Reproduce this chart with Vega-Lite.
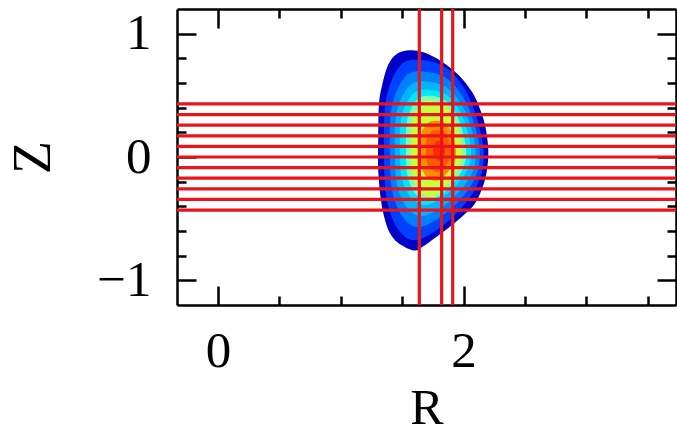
{
  "$schema": "https://vega.github.io/schema/vega-lite/v6.json",
  "width": 499,
  "height": 296,
  "autosize": "none",
  "padding": {"left": 177, "top": 9, "right": 1, "bottom": 135},
  "background": "white",
  "config": {
    "view": {"stroke": null},
    "font": "Liberation Serif",
    "axis": {
      "labelFont": "Liberation Serif",
      "titleFont": "Liberation Serif",
      "labelColor": "black",
      "titleColor": "black",
      "tickColor": "black",
      "domainColor": "black",
      "tickWidth": 2.5,
      "domainWidth": 2.5,
      "grid": false,
      "labelFontSize": 51,
      "titleFontSize": 54,
      "titleFontWeight": "normal",
      "labelFlush": false,
      "labelOverlap": false,
      "zindex": 1
    }
  },
  "datasets": {
    "contours": [
      {"level": 1, "i": 1, "R": 1.564, "Z": 0.866},
      {"level": 1, "i": 2, "R": 1.686, "Z": 0.846},
      {"level": 1, "i": 3, "R": 1.822, "Z": 0.775},
      {"level": 1, "i": 4, "R": 1.958, "Z": 0.667},
      {"level": 1, "i": 5, "R": 2.067, "Z": 0.532},
      {"level": 1, "i": 6, "R": 2.121, "Z": 0.424},
      {"level": 1, "i": 7, "R": 2.175, "Z": 0.262},
      {"level": 1, "i": 8, "R": 2.202, "Z": 0.059},
      {"level": 1, "i": 9, "R": 2.189, "Z": -0.119},
      {"level": 1, "i": 10, "R": 2.148, "Z": -0.265},
      {"level": 1, "i": 11, "R": 2.086, "Z": -0.387},
      {"level": 1, "i": 12, "R": 1.996, "Z": -0.476},
      {"level": 1, "i": 13, "R": 1.890, "Z": -0.565},
      {"level": 1, "i": 14, "R": 1.781, "Z": -0.646},
      {"level": 1, "i": 15, "R": 1.670, "Z": -0.725},
      {"level": 1, "i": 16, "R": 1.596, "Z": -0.758},
      {"level": 1, "i": 17, "R": 1.468, "Z": -0.697},
      {"level": 1, "i": 18, "R": 1.400, "Z": -0.616},
      {"level": 1, "i": 19, "R": 1.360, "Z": -0.509},
      {"level": 1, "i": 20, "R": 1.327, "Z": -0.346},
      {"level": 1, "i": 21, "R": 1.305, "Z": -0.103},
      {"level": 1, "i": 22, "R": 1.305, "Z": 0.140},
      {"level": 1, "i": 23, "R": 1.311, "Z": 0.424},
      {"level": 1, "i": 24, "R": 1.338, "Z": 0.586},
      {"level": 1, "i": 25, "R": 1.387, "Z": 0.749},
      {"level": 1, "i": 26, "R": 1.458, "Z": 0.838},

      {"level": 2, "i": 1, "R": 1.629, "Z": 0.789},
      {"level": 2, "i": 2, "R": 1.870, "Z": 0.716},
      {"level": 2, "i": 3, "R": 2.056, "Z": 0.461},
      {"level": 2, "i": 4, "R": 2.163, "Z": 0.059},
      {"level": 2, "i": 5, "R": 2.110, "Z": -0.233},
      {"level": 2, "i": 6, "R": 1.896, "Z": -0.503},
      {"level": 2, "i": 7, "R": 1.629, "Z": -0.671},
      {"level": 2, "i": 8, "R": 1.476, "Z": -0.598},
      {"level": 2, "i": 9, "R": 1.374, "Z": -0.342},
      {"level": 2, "i": 10, "R": 1.352, "Z": 0.059},
      {"level": 2, "i": 11, "R": 1.368, "Z": 0.461},
      {"level": 2, "i": 12, "R": 1.476, "Z": 0.731},

      {"level": 3, "i": 1, "R": 1.661, "Z": 0.694},
      {"level": 3, "i": 2, "R": 1.873, "Z": 0.631},
      {"level": 3, "i": 3, "R": 2.037, "Z": 0.409},
      {"level": 3, "i": 4, "R": 2.131, "Z": 0.059},
      {"level": 3, "i": 5, "R": 2.084, "Z": -0.191},
      {"level": 3, "i": 6, "R": 1.896, "Z": -0.422},
      {"level": 3, "i": 7, "R": 1.661, "Z": -0.565},
      {"level": 3, "i": 8, "R": 1.518, "Z": -0.503},
      {"level": 3, "i": 9, "R": 1.422, "Z": -0.285},
      {"level": 3, "i": 10, "R": 1.400, "Z": 0.059},
      {"level": 3, "i": 11, "R": 1.416, "Z": 0.409},
      {"level": 3, "i": 12, "R": 1.518, "Z": 0.643},

      {"level": 4, "i": 1, "R": 1.686, "Z": 0.613},
      {"level": 4, "i": 2, "R": 1.871, "Z": 0.558},
      {"level": 4, "i": 3, "R": 2.016, "Z": 0.364},
      {"level": 4, "i": 4, "R": 2.098, "Z": 0.059},
      {"level": 4, "i": 5, "R": 2.057, "Z": -0.155},
      {"level": 4, "i": 6, "R": 1.892, "Z": -0.353},
      {"level": 4, "i": 7, "R": 1.686, "Z": -0.476},
      {"level": 4, "i": 8, "R": 1.551, "Z": -0.423},
      {"level": 4, "i": 9, "R": 1.461, "Z": -0.235},
      {"level": 4, "i": 10, "R": 1.441, "Z": 0.059},
      {"level": 4, "i": 11, "R": 1.456, "Z": 0.364},
      {"level": 4, "i": 12, "R": 1.551, "Z": 0.569},

      {"level": 5, "i": 1, "R": 1.710, "Z": 0.546},
      {"level": 5, "i": 2, "R": 1.869, "Z": 0.498},
      {"level": 5, "i": 3, "R": 1.991, "Z": 0.330},
      {"level": 5, "i": 4, "R": 2.061, "Z": 0.067},
      {"level": 5, "i": 5, "R": 2.026, "Z": -0.114},
      {"level": 5, "i": 6, "R": 1.886, "Z": -0.282},
      {"level": 5, "i": 7, "R": 1.710, "Z": -0.387},
      {"level": 5, "i": 8, "R": 1.585, "Z": -0.341},
      {"level": 5, "i": 9, "R": 1.500, "Z": -0.182},
      {"level": 5, "i": 10, "R": 1.482, "Z": 0.067},
      {"level": 5, "i": 11, "R": 1.496, "Z": 0.330},
      {"level": 5, "i": 12, "R": 1.585, "Z": 0.508},

      {"level": 6, "i": 1, "R": 1.727, "Z": 0.497},
      {"level": 6, "i": 2, "R": 1.859, "Z": 0.454},
      {"level": 6, "i": 3, "R": 1.962, "Z": 0.303},
      {"level": 6, "i": 4, "R": 2.020, "Z": 0.067},
      {"level": 6, "i": 5, "R": 1.991, "Z": -0.101},
      {"level": 6, "i": 6, "R": 1.874, "Z": -0.257},
      {"level": 6, "i": 7, "R": 1.727, "Z": -0.354},
      {"level": 6, "i": 8, "R": 1.619, "Z": -0.312},
      {"level": 6, "i": 9, "R": 1.547, "Z": -0.165},
      {"level": 6, "i": 10, "R": 1.531, "Z": 0.067},
      {"level": 6, "i": 11, "R": 1.542, "Z": 0.303},
      {"level": 6, "i": 12, "R": 1.619, "Z": 0.463},

      {"level": 7, "i": 1, "R": 1.743, "Z": 0.457},
      {"level": 7, "i": 2, "R": 1.853, "Z": 0.418},
      {"level": 7, "i": 3, "R": 1.939, "Z": 0.281},
      {"level": 7, "i": 4, "R": 1.988, "Z": 0.067},
      {"level": 7, "i": 5, "R": 1.963, "Z": -0.088},
      {"level": 7, "i": 6, "R": 1.865, "Z": -0.233},
      {"level": 7, "i": 7, "R": 1.743, "Z": -0.322},
      {"level": 7, "i": 8, "R": 1.649, "Z": -0.283},
      {"level": 7, "i": 9, "R": 1.586, "Z": -0.147},
      {"level": 7, "i": 10, "R": 1.572, "Z": 0.067},
      {"level": 7, "i": 11, "R": 1.582, "Z": 0.281},
      {"level": 7, "i": 12, "R": 1.649, "Z": 0.426},

      {"level": 8, "i": 1, "R": 1.784, "Z": 0.294},
      {"level": 8, "i": 2, "R": 1.854, "Z": 0.270},
      {"level": 8, "i": 3, "R": 1.908, "Z": 0.185},
      {"level": 8, "i": 4, "R": 1.939, "Z": 0.051},
      {"level": 8, "i": 5, "R": 1.923, "Z": -0.046},
      {"level": 8, "i": 6, "R": 1.861, "Z": -0.136},
      {"level": 8, "i": 7, "R": 1.784, "Z": -0.192},
      {"level": 8, "i": 8, "R": 1.708, "Z": -0.168},
      {"level": 8, "i": 9, "R": 1.657, "Z": -0.083},
      {"level": 8, "i": 10, "R": 1.645, "Z": 0.051},
      {"level": 8, "i": 11, "R": 1.653, "Z": 0.185},
      {"level": 8, "i": 12, "R": 1.708, "Z": 0.275},

      {"level": 9, "i": 1, "R": 1.796, "Z": 0.221},
      {"level": 9, "i": 2, "R": 1.842, "Z": 0.204},
      {"level": 9, "i": 3, "R": 1.878, "Z": 0.144},
      {"level": 9, "i": 4, "R": 1.898, "Z": 0.051},
      {"level": 9, "i": 5, "R": 1.888, "Z": -0.017},
      {"level": 9, "i": 6, "R": 1.847, "Z": -0.080},
      {"level": 9, "i": 7, "R": 1.796, "Z": -0.119},
      {"level": 9, "i": 8, "R": 1.740, "Z": -0.102},
      {"level": 9, "i": 9, "R": 1.702, "Z": -0.043},
      {"level": 9, "i": 10, "R": 1.694, "Z": 0.051},
      {"level": 9, "i": 11, "R": 1.700, "Z": 0.144},
      {"level": 9, "i": 12, "R": 1.740, "Z": 0.208},

      {"level": 10, "i": 1, "R": 1.800, "Z": 0.132},
      {"level": 10, "i": 2, "R": 1.834, "Z": 0.108},
      {"level": 10, "i": 3, "R": 1.849, "Z": 0.051},
      {"level": 10, "i": 4, "R": 1.834, "Z": -0.006},
      {"level": 10, "i": 5, "R": 1.800, "Z": -0.030},
      {"level": 10, "i": 6, "R": 1.766, "Z": -0.006},
      {"level": 10, "i": 7, "R": 1.751, "Z": 0.051},
      {"level": 10, "i": 8, "R": 1.766, "Z": 0.108}
    ],
    "hlines": [
      {"Z": 0.43}, {"Z": 0.344}, {"Z": 0.258}, {"Z": 0.172}, {"Z": 0.086}, {"Z": 0},
      {"Z": -0.086}, {"Z": -0.172}, {"Z": -0.258}, {"Z": -0.344}, {"Z": -0.43}
    ],
    "vlines": [
      {"R": 1.64}, {"R": 1.822}, {"R": 1.912}
    ]
  },
  "layer": [
    {
      "data": {"name": "contours"},
      "mark": {"type": "line", "filled": true, "interpolate": "cardinal-closed"},
      "encoding": {
        "x": {
          "field": "R", "type": "quantitative",
          "scale": {"domain": [-0.334, 3.731], "nice": false, "zero": false},
          "axis": {"orient": "bottom", "values": [0, 2], "format": "d", "tickSize": -19, "labelPadding": 40, "title": "R", "titleFontSize": 50, "titlePadding": 7, "domain": true}
        },
        "y": {
          "field": "Z", "type": "quantitative",
          "scale": {"domain": [-1.2, 1.2], "nice": false, "zero": false},
          "axis": {"orient": "left", "values": [-1, 0, 1], "format": "d", "tickSize": -19, "labelPadding": 45, "title": "Z", "titlePadding": 36, "domain": true}
        },
        "color": {
          "field": "level", "type": "ordinal",
          "scale": {"domain": [1, 2, 3, 4, 5, 6, 7, 8, 9, 10], "range": ["#0000c8", "#0040ff", "#0080ff", "#00b4ff", "#00e6ff", "#80ffb0", "#c8ff3c", "#ff8c00", "#ff5a00", "#ff2a00"]},
          "legend": null
        },
        "order": {"field": "i", "type": "quantitative"}
      }
    },
    {
      "data": {"name": "hlines"},
      "mark": {"type": "rule", "color": "#e8141c", "strokeWidth": 3.2},
      "encoding": {
        "y": {
          "field": "Z", "type": "quantitative",
          "scale": {"domain": [-1.2, 1.2], "nice": false, "zero": false},
          "axis": {"orient": "left", "values": [-0.8, -0.6, -0.4, -0.2, 0.2, 0.4, 0.6, 0.8], "tickSize": -9, "labels": false, "domain": false, "title": null}
        }
      }
    },
    {
      "data": {"name": "vlines"},
      "mark": {"type": "rule", "color": "#e8141c", "strokeWidth": 3.2},
      "encoding": {
        "x": {
          "field": "R", "type": "quantitative",
          "scale": {"domain": [-0.334, 3.731], "nice": false, "zero": false},
          "axis": {"orient": "bottom", "values": [0.5, 1, 1.5, 2.5, 3, 3.5], "tickSize": -9, "labels": false, "domain": false, "title": null}
        }
      }
    },
    {
      "data": {"name": "vlines"},
      "mark": {"type": "point", "opacity": 0},
      "encoding": {
        "x": {
          "field": "R", "type": "quantitative",
          "scale": {"domain": [-0.334, 3.731], "nice": false, "zero": false},
          "axis": {"orient": "top", "values": [0, 2], "tickSize": -19, "labels": false, "domain": true, "title": null}
        },
        "y": {
          "datum": 0, "type": "quantitative",
          "scale": {"domain": [-1.2, 1.2], "nice": false, "zero": false},
          "axis": {"orient": "right", "values": [-1, 0, 1], "tickSize": -19, "labels": false, "domain": true, "title": null}
        }
      }
    },
    {
      "data": {"name": "vlines"},
      "mark": {"type": "point", "opacity": 0},
      "encoding": {
        "x": {
          "field": "R", "type": "quantitative",
          "scale": {"domain": [-0.334, 3.731], "nice": false, "zero": false},
          "axis": {"orient": "top", "values": [0.5, 1, 1.5, 2.5, 3, 3.5], "tickSize": -9, "labels": false, "domain": false, "title": null}
        },
        "y": {
          "datum": 0, "type": "quantitative",
          "scale": {"domain": [-1.2, 1.2], "nice": false, "zero": false},
          "axis": {"orient": "right", "values": [-0.8, -0.6, -0.4, -0.2, 0.2, 0.4, 0.6, 0.8], "tickSize": -9, "labels": false, "domain": false, "title": null}
        }
      }
    }
  ],
  "resolve": {"axis": {"x": "independent", "y": "independent"}}
}
